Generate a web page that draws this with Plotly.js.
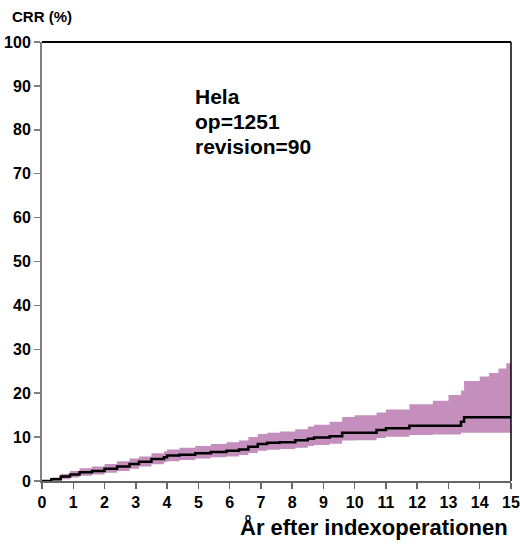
<!DOCTYPE html>
<html>
<head>
<meta charset="utf-8">
<script src="https://cdn.plot.ly/plotly-3.0.1.min.js"></script>
<style>html,body{margin:0;padding:0;background:#fff;}#chart{width:520px;height:546px;}</style>
</head>
<body>
<div id="chart"></div>
<script>
// Years after index operation (step times)
const years = [0, 0.3, 0.6, 0.9, 1.2, 1.6, 2.0, 2.4, 2.8, 3.1, 3.5, 3.9, 4.0, 4.4, 4.9, 5.4, 5.9, 6.3, 6.6, 6.9, 7.2, 7.6, 8.1, 8.5, 8.7, 9.2, 9.6, 10.0, 10.7, 11.0, 11.75, 12.5, 13.0, 13.4, 13.5, 14.0, 14.3, 14.6, 14.85, 15.0];
// Cumulative revision rate (%)
const crr = [0, 0.4, 1.0, 1.5, 2.0, 2.3, 2.8, 3.3, 3.9, 4.4, 5.0, 5.4, 5.8, 6.0, 6.3, 6.6, 6.9, 7.2, 7.8, 8.4, 8.7, 8.8, 9.3, 9.6, 9.9, 10.2, 11.0, 11.0, 11.6, 12.0, 12.6, 12.6, 12.6, 13.5, 14.5, 14.5, 14.5, 14.5, 14.5, 14.5];
// Lower confidence limit (%)
const lower = [0, 0.1, 0.4, 0.8, 1.2, 1.5, 1.9, 2.3, 2.8, 3.3, 3.8, 4.3, 4.5, 4.8, 5.1, 5.4, 5.6, 5.9, 6.4, 6.9, 7.1, 7.3, 7.6, 8.0, 8.2, 8.5, 9.2, 9.3, 9.8, 10.1, 10.5, 10.6, 10.6, 11.0, 11.0, 11.0, 11.0, 11.0, 11.0, 11.0];
// Upper confidence limit (%)
const upper = [0, 0.8, 1.6, 2.3, 2.9, 3.3, 3.9, 4.5, 5.1, 5.6, 6.3, 6.8, 7.2, 7.6, 8.0, 8.4, 8.8, 9.2, 10.0, 10.7, 11.0, 11.3, 11.8, 12.4, 12.8, 13.5, 14.6, 15.0, 15.6, 16.3, 17.5, 18.3, 19.6, 20.6, 22.8, 23.8, 24.6, 25.6, 26.8, 27.6];
const xTicks = [0,1,2,3,4,5,6,7,8,9,10,11,12,13,14,15];
const yTicks = [0,10,20,30,40,50,60,70,80,90,100];
const infoLines = ["Hela", "op=1251", "revision=90"];

const F = "Arial, 'Liberation Sans', sans-serif";
const band = "#c48fbc";

const traces = [
  {x: years, y: lower, mode: "lines", line: {shape: "hv", width: 0, color: band}, hoverinfo: "skip", showlegend: false},
  {x: years, y: upper, mode: "lines", line: {shape: "hv", width: 0, color: band}, fill: "tonexty", fillcolor: band, hoverinfo: "skip", showlegend: false},
  {x: years, y: crr, mode: "lines", line: {shape: "hv", width: 2.5, color: "#000"}, showlegend: false}
];

const infoAnn = infoLines.map((s, i) => ({
  xref: "x", yref: "y", x: 4.83, y: 87.5 - i * 5.7, xanchor: "left", yanchor: "middle", showarrow: false,
  text: s, font: {family: F, size: 21, color: "#000", weight: 700}
}));

const layout = {
  width: 520, height: 546,
  margin: {l: 42, r: 9, t: 42, b: 65},
  paper_bgcolor: "#fff", plot_bgcolor: "#fff",
  showlegend: false,
  font: {family: F, size: 13, color: "#000", weight: 700},
  xaxis: {
    range: [0, 15], tickvals: xTicks, ticktext: xTicks.map(String),
    showgrid: false, zeroline: false,
    showline: true, linecolor: "#666", linewidth: 1.5,
    ticks: "outside", ticklen: 6, tickcolor: "#666", tickwidth: 1.5,
    tickfont: {family: F, size: 16, color: "#000", weight: 700}
  },
  yaxis: {
    range: [0, 100], tickvals: yTicks, ticktext: yTicks.map(String),
    showgrid: false, zeroline: false,
    showline: true, linecolor: "#808080", linewidth: 2,
    ticks: "outside", ticklen: 6, tickcolor: "#808080", tickwidth: 1.5,
    tickfont: {family: F, size: 16, color: "#000", weight: 700}
  },
  shapes: [
    {type: "line", xref: "paper", yref: "paper", x0: 0, x1: 1, y0: 1, y1: 1, line: {color: "#000", width: 2}},
    {type: "line", xref: "paper", yref: "paper", x0: 1, x1: 1, y0: 0, y1: 1, line: {color: "#000", width: 1.5}}
  ],
  annotations: [
    {xref: "paper", yref: "paper", x: -0.068, y: 1.059, xanchor: "left", yanchor: "middle", showarrow: false,
     text: "CRR (%)", font: {family: F, size: 15, color: "#000", weight: 700}},
    ...infoAnn,
    {xref: "paper", yref: "paper", x: 0.998, y: -0.105, xanchor: "right", yanchor: "middle", showarrow: false,
     text: "År efter indexoperationen", font: {family: F, size: 22, color: "#000", weight: 700}}
  ]
};

Plotly.newPlot("chart", traces, layout, {staticPlot: true, displayModeBar: false});
</script>
</body>
</html>
